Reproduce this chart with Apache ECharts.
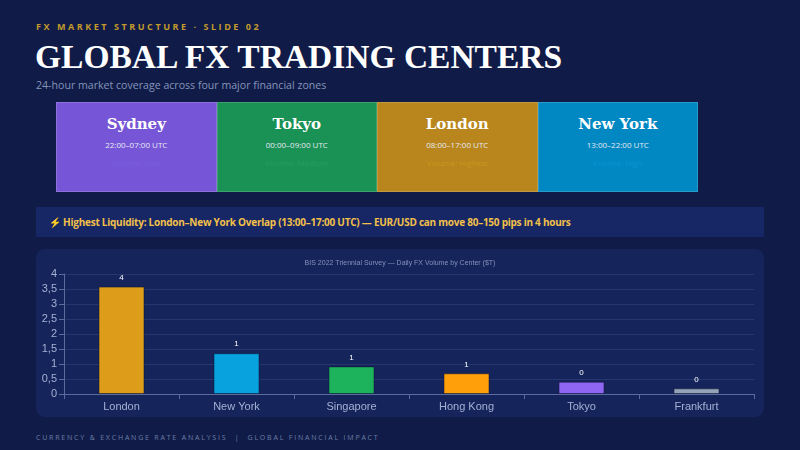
<!DOCTYPE html>
<html>
<head>
    <meta charset="UTF-8">
    <title>Global FX Trading Centers</title>
    <script src="https://cdn.jsdelivr.net/npm/echarts@6/dist/echarts.min.js"></script>
</head>
<style type="text/css">
    html, body {
        margin: 0;
        padding: 0;
        width: 800px;
        height: 450px;
        overflow: hidden;
        background: #101c47;
        font-family: "Open Sans", "Noto Sans", sans-serif;
    }
    .kicker {
        position: absolute; left: 36px; top: 20px;
        font-size: 9px; font-weight: bold; letter-spacing: 2.55px;
        color: #c49a2c;
    }
    .title {
        position: absolute; left: 35px; top: 38px;
        font-family: "Liberation Serif", serif; font-weight: bold;
        font-size: 33.5px; color: #ffffff;
    }
    .sub {
        position: absolute; left: 36px; top: 78px;
        font-size: 10.6px; color: #8594bb;
    }
    #zones {
        position: absolute; left: 56px; top: 102px; width: 642px; height: 90px;
        display: flex;
    }
    .zone {
        flex: 1; box-sizing: border-box; text-align: center;
        border: 1px solid rgba(255,255,255,0.16);
    }
    .zone .nm {
        font-family: "DejaVu Serif", serif; font-weight: bold;
        font-size: 15px; color: #fff; margin-top: 12px;
    }
    .zone .hr { font-size: 8px; color: #e6e9f5; margin-top: 6px; }
    .zone .vol { font-size: 8px; margin-top: 7px; }
    .banner {
        position: absolute; left: 36px; top: 207px; width: 728px; height: 30px;
        background: #172766; box-sizing: border-box; padding-left: 13px;
        line-height: 30px; font-size: 10px; letter-spacing: -0.25px;
        font-weight: bold; color: #f2c04a;
    }
    #main {
        position: absolute; left: 36px; top: 249px; width: 728px; height: 168px;
        background: #16245c; border-radius: 9px;
    }
    .foot {
        position: absolute; left: 36px; top: 433px;
        font-size: 7px; letter-spacing: 1.8px; color: #6c7ca8;
    }
</style>
<body>
    <div class="kicker">FX MARKET STRUCTURE · SLIDE 02</div>
    <div class="title">GLOBAL FX TRADING CENTERS</div>
    <div class="sub">24-hour market coverage across four major financial zones</div>
    <div id="zones"></div>
    <div class="banner">⚡ Highest Liquidity: London–New York Overlap (13:00–17:00 UTC) — EUR/USD can move 80–150 pips in 4 hours</div>
    <div id="main"></div>
    <div class="foot">CURRENCY &amp; EXCHANGE RATE ANALYSIS &nbsp;|&nbsp; GLOBAL FINANCIAL IMPACT</div>
</body>
<script>
    // trading sessions
    var zoneNames = ['Sydney', 'Tokyo', 'London', 'New York'];
    var zoneHours = ['22:00–07:00 UTC', '00:00–09:00 UTC', '08:00–17:00 UTC', '13:00–22:00 UTC'];
    var zoneVolume = ['Volume: Low', 'Volume: Medium', 'Volume: Highest', 'Volume: High'];
    var zoneColors = ['#7656d6', '#1a9155', '#b8861c', '#0188c2'];
    var zoneVolColors = ['#7d5fe0', '#22a060', '#c9961f', '#0a94d0'];

    // BIS 2022 daily volume, $T
    var centers = ['London', 'New York', 'Singapore', 'Hong Kong', 'Tokyo', 'Frankfurt'];
    var volumes = [3.58, 1.36, 0.92, 0.69, 0.41, 0.19];
    var barColors = ['#dd9d1b', '#08a3de', '#1db35c', '#ff9f0a', '#8f66f2', '#94a3b8'];

    var zonesEl = document.getElementById('zones');
    for (var i = 0; i < zoneNames.length; i++) {
        var d = document.createElement('div');
        d.className = 'zone';
        d.style.background = zoneColors[i];
        d.innerHTML = '<div class="nm">' + zoneNames[i] + '</div>' +
            '<div class="hr">' + zoneHours[i] + '</div>' +
            '<div class="vol" style="color:' + zoneVolColors[i] + '">' + zoneVolume[i] + '</div>';
        zonesEl.appendChild(d);
    }

    var myChart = echarts.init(document.getElementById('main'));
    var option = {
        animation: false,
        title: {
            text: 'BIS 2022 Triennial Survey — Daily FX Volume by Center ($T)',
            left: 'center', top: 6,
            textStyle: { fontSize: 7, fontWeight: 'normal', color: '#8392b8', fontFamily: 'Liberation Sans' }
        },
        grid: { left: 28, right: 10, top: 25, bottom: 23 },
        xAxis: {
            type: 'category',
            data: centers,
            axisLine: { lineStyle: { color: '#5b6b9c' } },
            axisTick: { show: true, lineStyle: { color: '#5b6b9c' } },
            axisLabel: { color: '#a3b1d3', fontSize: 11, margin: 7, fontFamily: 'Liberation Sans' }
        },
        yAxis: {
            type: 'value',
            min: 0, max: 4, interval: 0.5,
            axisLine: { show: true, lineStyle: { color: '#5b6b9c' } },
            axisTick: { show: true, lineStyle: { color: '#5b6b9c' } },
            splitLine: { lineStyle: { color: '#26376f' } },
            axisLabel: {
                color: '#a3b1d3', fontSize: 11, margin: 7, fontFamily: 'Liberation Sans',
                formatter: function (v) { return String(v).replace('.', ','); }
            }
        },
        series: [{
            type: 'bar',
            data: volumes.map(function (v, i) {
                return { value: v, itemStyle: { color: barColors[i] } };
            }),
            barWidth: '40%',
            itemStyle: { borderColor: 'rgba(10,20,50,0.5)', borderWidth: 1 },
            label: {
                show: true, position: 'top', distance: 5,
                color: '#ffffff', fontSize: 8, fontFamily: 'Liberation Sans',
                formatter: function (p) { return Math.round(p.value); }
            }
        }]
    };
    myChart.setOption(option);
</script>
</html>
